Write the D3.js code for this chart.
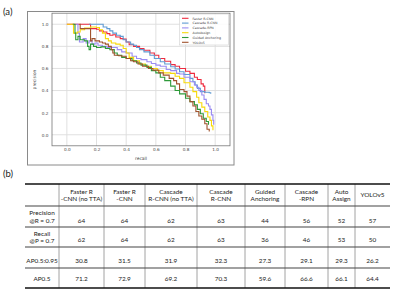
<!DOCTYPE html>
<html>
<head>
<meta charset="utf-8">
<script src="https://cdn.jsdelivr.net/npm/d3@7"></script>
<style>
  body { margin: 0; background: #fff; }
  svg { display: block; }
</style>
</head>
<body>
<div id="fig"></div>
<script>
// ---- PR curve data (recall, precision) ----
const methods = ["Faster R-CNN", "Cascade R-CNN", "Cascade-RPN", "AutoAssign", "Guided Anchoring", "YOLOv5"];
const colors = ["#ee2b3f", "#5f9bd3", "#9b8cf2", "#f7d90a", "#2e9a3a", "#a0522d"];

const fasterRcnn = [[0,1],[0.155,1],[0.16,0.96],[0.2,0.955],[0.22,0.94],[0.245,0.93],[0.27,0.915],[0.29,0.9],[0.31,0.905],
  [0.33,0.885],[0.36,0.87],[0.38,0.865],[0.4,0.84],[0.42,0.815],[0.45,0.8],[0.49,0.78],[0.52,0.765],[0.56,0.74],[0.59,0.72],
  [0.62,0.69],[0.66,0.665],[0.7,0.635],[0.73,0.62],[0.76,0.6],[0.8,0.575],[0.83,0.555],[0.86,0.52],[0.88,0.5],[0.905,0.46],
  [0.92,0.44],[0.93,0.375]];
const cascadeRcnn = [[0.15,1],[0.235,1],[0.245,0.975],[0.27,0.96],[0.29,0.94],[0.31,0.92],[0.335,0.9],[0.36,0.89],[0.38,0.86],
  [0.4,0.84],[0.43,0.82],[0.45,0.81],[0.47,0.79],[0.49,0.77],[0.52,0.75],[0.56,0.72],[0.59,0.69],[0.63,0.66],[0.66,0.64],
  [0.7,0.615],[0.73,0.595],[0.76,0.57],[0.79,0.545],[0.83,0.51],[0.85,0.48],[0.865,0.45],[0.88,0.42],[0.9,0.39],[0.93,0.385],
  [0.96,0.38],[0.97,0.37]];
const cascadeRpn = [[0.06,1],[0.075,0.92],[0.085,0.84],[0.11,0.87],[0.13,0.83],[0.15,0.85],[0.17,0.82],[0.19,0.83],[0.21,0.81],
  [0.24,0.8],[0.27,0.79],[0.3,0.79],[0.34,0.77],[0.37,0.75],[0.4,0.74],[0.44,0.71],[0.47,0.69],[0.5,0.68],[0.54,0.66],
  [0.57,0.645],[0.6,0.63],[0.63,0.62],[0.67,0.59],[0.7,0.58],[0.74,0.555],[0.76,0.55],[0.79,0.52],[0.83,0.48],[0.86,0.45],
  [0.875,0.43],[0.89,0.4],[0.91,0.36],[0.925,0.32],[0.94,0.28],[0.955,0.26],[0.965,0.23],[0.975,0.18],[0.985,0.13],[0.99,0.09]];
const autoAssign = [[0,1],[0.04,1],[0.045,0.92],[0.07,0.93],[0.09,0.95],[0.12,0.965],[0.16,0.975],[0.2,0.97],[0.22,0.95],
  [0.24,0.92],[0.26,0.87],[0.28,0.85],[0.3,0.83],[0.33,0.82],[0.36,0.81],[0.38,0.78],[0.4,0.74],[0.42,0.7],[0.45,0.67],
  [0.49,0.64],[0.53,0.62],[0.57,0.6],[0.61,0.58],[0.65,0.56],[0.7,0.555],[0.73,0.53],[0.76,0.51],[0.79,0.47],[0.83,0.43],
  [0.85,0.39],[0.875,0.34],[0.89,0.29],[0.91,0.25],[0.93,0.21],[0.95,0.16],[0.965,0.13],[0.975,0.08],[0.985,0.04]];
const guidedAnchoring = [[0.04,1],[0.055,0.92],[0.06,0.86],[0.075,0.89],[0.09,0.86],[0.12,0.85],[0.14,0.8],[0.15,0.77],
  [0.16,0.82],[0.18,0.8],[0.2,0.79],[0.23,0.795],[0.26,0.78],[0.29,0.77],[0.32,0.74],[0.34,0.72],[0.37,0.7],[0.4,0.69],
  [0.44,0.67],[0.47,0.65],[0.5,0.63],[0.54,0.61],[0.57,0.58],[0.6,0.56],[0.63,0.52],[0.66,0.49],[0.7,0.44],[0.73,0.4],
  [0.76,0.37],[0.8,0.33],[0.83,0.3],[0.86,0.27],[0.88,0.23],[0.9,0.19],[0.92,0.15],[0.94,0.12],[0.955,0.09]];
const yolov5 = [[0.085,1],[0.09,0.96],[0.16,0.85],[0.17,0.87],[0.19,0.85],[0.22,0.84],[0.24,0.83],[0.26,0.82],[0.28,0.8],
  [0.3,0.77],[0.31,0.74],[0.32,0.72],[0.35,0.715],[0.37,0.71],[0.4,0.69],[0.43,0.67],[0.45,0.66],[0.48,0.64],[0.51,0.62],
  [0.55,0.6],[0.58,0.585],[0.62,0.56],[0.65,0.54],[0.69,0.51],[0.72,0.49],[0.74,0.46],[0.76,0.41],[0.79,0.39],[0.81,0.35],
  [0.83,0.3],[0.85,0.26],[0.87,0.21],[0.89,0.17],[0.91,0.14],[0.93,0.1],[0.945,0.05],[0.96,0.03]];
const curves = [fasterRcnn, cascadeRcnn, cascadeRpn, autoAssign, guidedAnchoring, yolov5];
const axisTicks = [0, 0.2, 0.4, 0.6, 0.8, 1.0];

// ---- table data ----
const tableHeaders = [["Faster R", "-CNN (no TTA)"], ["Faster R", "-CNN"], ["Cascade", "R-CNN (no TTA)"], ["Cascade", "R-CNN"],
  ["Guided", "Anchoring"], ["Cascade", "-RPN"], ["Auto", "Assign"], ["YOLOv5"]];
const rowLabels = [["Precision", "@R = 0.7"], ["Recall", "@P = 0.7"], ["AP0.5:0.95"], ["AP0.5"]];
const precisionAtR = [64, 64, 62, 63, 44, 56, 52, 57];
const recallAtP = [62, 64, 62, 63, 36, 46, 53, 50];
const ap5095 = [30.8, 31.5, 31.9, 32.3, 27.3, 29.1, 29.3, 26.2];
const ap50 = [71.2, 72.9, 69.2, 70.3, 59.6, 66.6, 66.1, 64.4];

const svg = d3.select("#fig").append("svg").attr("width", 400).attr("height", 290);
svg.append("rect").attr("width", 400).attr("height", 290).attr("fill", "#fff");

const tickFont = "DejaVu Sans, sans-serif";
const tableFont = "Lato, 'Open Sans', sans-serif";

// panel labels
svg.append("text").attr("x", 3).attr("y", 15).text("(a)")
  .attr("font-family", tableFont).attr("font-size", 9.5).attr("fill", "#222");
svg.append("text").attr("x", 3).attr("y", 177).text("(b)")
  .attr("font-family", tableFont).attr("font-size", 9.5).attr("fill", "#222");

// figure frame
svg.append("rect").attr("x", 27.5).attr("y", 11.5).attr("width", 206.5).attr("height", 153.5)
  .attr("fill", "none").attr("stroke", "#8a8a8a").attr("stroke-width", 1);

const x = d3.scaleLinear().domain([-0.1, 1.1]).range([52, 230]);
const y = d3.scaleLinear().domain([-0.1, 1.1]).range([145.8, 13.2]);

const plot = svg.append("g");

// grid
plot.append("g").selectAll("line.vg").data(axisTicks).enter().append("line")
  .attr("x1", d => x(d)).attr("x2", d => x(d)).attr("y1", y(1.1)).attr("y2", y(-0.1))
  .attr("stroke", "#dcdcdc").attr("stroke-width", 0.9);
plot.append("g").selectAll("line.hg").data(axisTicks).enter().append("line")
  .attr("x1", x(-0.1)).attr("x2", x(1.1)).attr("y1", d => y(d)).attr("y2", d => y(d))
  .attr("stroke", "#dcdcdc").attr("stroke-width", 0.9);

// axes box
plot.append("rect").attr("x", x(-0.1)).attr("y", y(1.1)).attr("width", x(1.1) - x(-0.1)).attr("height", y(-0.1) - y(1.1))
  .attr("fill", "none").attr("stroke", "#777").attr("stroke-width", 0.8);

// tick labels via axes
const fmt = d3.format(".1f");
const xAxis = plot.append("g").attr("transform", `translate(0,${y(-0.1)})`)
  .call(d3.axisBottom(x).tickValues(axisTicks).tickFormat(fmt).tickSize(0).tickPadding(2.5));
const yAxis = plot.append("g").attr("transform", `translate(${x(-0.1)},0)`)
  .call(d3.axisLeft(y).tickValues(axisTicks).tickFormat(fmt).tickSize(0).tickPadding(3.5));
[xAxis, yAxis].forEach(a => {
  a.select(".domain").remove();
  a.selectAll("text").attr("font-family", tickFont).attr("font-size", 4.2).attr("fill", "#444");
});

plot.append("text").attr("x", (x(-0.1) + x(1.1)) / 2).attr("y", 159.5).attr("text-anchor", "middle")
  .attr("font-family", tickFont).attr("font-size", 4.4).attr("fill", "#444").text("recall");
plot.append("text").attr("transform", `translate(36,${(y(-0.1) + y(1.1)) / 2}) rotate(-90)`).attr("text-anchor", "middle")
  .attr("font-family", tickFont).attr("font-size", 4.4).attr("fill", "#444").text("precision");

// curves
const line = d3.line().x(d => x(d[0])).y(d => y(d[1])).curve(d3.curveStepAfter);
plot.append("g").selectAll("path").data(curves).enter().append("path")
  .attr("d", line).attr("fill", "none")
  .attr("stroke", (d, i) => colors[i]).attr("stroke-width", 1.1);

// legend
const lg = plot.append("g").attr("transform", "translate(179.5,14)");
lg.append("rect").attr("width", 49).attr("height", 31).attr("fill", "#fff").attr("fill-opacity", 0.85)
  .attr("stroke", "#d0d0d0").attr("stroke-width", 0.6);
const li = lg.selectAll("g").data(methods).enter().append("g")
  .attr("transform", (d, i) => `translate(0,${4.3 + i * 4.8})`);
li.append("line").attr("x1", 2.5).attr("x2", 9).attr("stroke", (d, i) => colors[i]).attr("stroke-width", 1.1);
li.append("text").attr("x", 13).attr("y", 1.2).text(d => d)
  .attr("font-family", tickFont).attr("font-size", 3.2).attr("fill", "#444");

// ---- table ----
const colEdges = [25, 59, 104, 145, 197, 245, 285, 328, 355, 390];
const rowEdges = [184, 206, 227, 247, 268, 288];
const tableRows = [precisionAtR.map(String), recallAtP.map(String), ap5095.map(fmt), ap50.map(fmt)];
const valueShift = [4.5, 3, 3, 1];
const tbl = svg.append("g").attr("font-family", tableFont).attr("fill", "#222");

// vertical lines
tbl.selectAll("line.v").data(colEdges.slice(1, -1)).enter().append("line")
  .attr("x1", d => d).attr("x2", d => d).attr("y1", rowEdges[0]).attr("y2", rowEdges[5])
  .attr("stroke", "#8c8c8c").attr("stroke-width", 0.8);
// horizontal lines
tbl.selectAll("line.h").data(rowEdges).enter().append("line")
  .attr("x1", colEdges[0]).attr("x2", colEdges[colEdges.length - 1]).attr("y1", d => d).attr("y2", d => d)
  .attr("stroke", (d, i) => (i === 0 || i === 5) ? "#111" : "#444")
  .attr("stroke-width", (d, i) => (i === 0 || i === 5) ? 1.6 : 1.1);

const colCenter = i => (colEdges[i] + colEdges[i + 1]) / 2;
const rowCenter = i => (rowEdges[i] + rowEdges[i + 1]) / 2;

// header
tableHeaders.forEach((lines, c) => {
  lines.forEach((t, k) => {
    const cy = lines.length === 1 ? rowCenter(0) : rowCenter(0) + (k - 0.5) * 7.4;
    tbl.append("text").attr("x", colCenter(c + 1)).attr("y", cy + 2.3).attr("text-anchor", "middle")
      .attr("font-size", 6.4).text(t);
  });
});

// row labels
rowLabels.forEach((lines, r) => {
  lines.forEach((t, k) => {
    const cy = lines.length === 1 ? rowCenter(r + 1) + valueShift[r] : rowCenter(r + 1) + (k - 0.5) * 7.4;
    tbl.append("text").attr("x", colCenter(0)).attr("y", cy + 2.3).attr("text-anchor", "middle")
      .attr("font-size", 6.4).text(t);
  });
});

// values
tableRows.forEach((vals, r) => {
  tbl.selectAll(null).data(vals).enter().append("text")
    .attr("x", (d, c) => colCenter(c + 1)).attr("y", rowCenter(r + 1) + valueShift[r] + 2.3)
    .attr("text-anchor", "middle").attr("font-size", 6.4).text(d => d);
});
</script>
</body>
</html>
